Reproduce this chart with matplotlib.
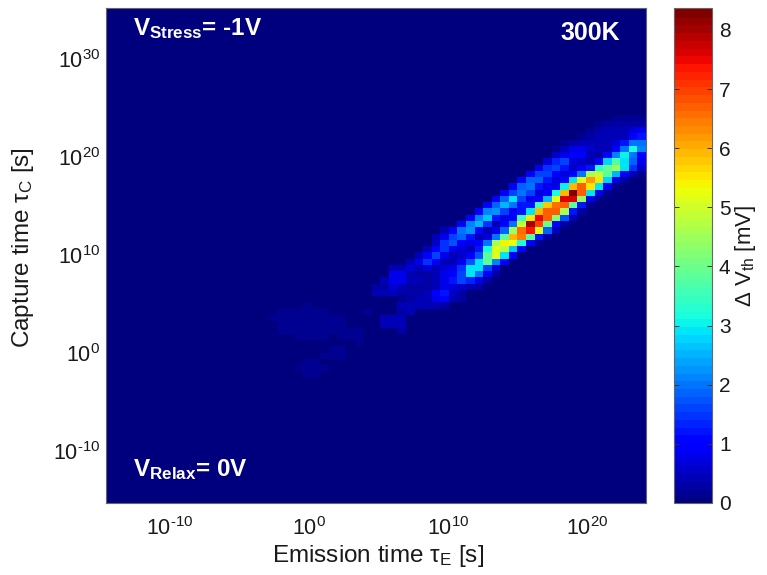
import numpy as np
import matplotlib

matplotlib.use("Agg")
import matplotlib.pyplot as plt

plt.rcParams["font.family"] = ["Liberation Sans", "DejaVu Sans"]
plt.rcParams["mathtext.fontset"] = "custom"
plt.rcParams["mathtext.rm"] = "Liberation Sans"
plt.rcParams["mathtext.bf"] = "Liberation Sans:bold"
plt.rcParams["mathtext.default"] = "regular"

N_COLS = 63
N_ROWS = 79

# decades covered by the axes
x_range = [-14.64, 24.21]
y_range = [-15.25, 35.25]
x_ticks = [-10, 0, 10, 20]
y_ticks = [-10, 0, 10, 20, 30]
cbar_ticks = [0, 1, 2, 3, 4, 5, 6, 7, 8]
vmax = 8.37

# rows counted from the top, columns counted from the right edge
band_rows = list(range(17, 49))
band_first_col = [
    3, 5, 6, 7, 9, 10, 10, 11, 12, 13, 14, 15, 16, 17, 18, 19,
    20, 21, 23, 24, 24, 25, 26, 27, 29, 29, 30, 31, 31, 28, 28, 28,
]
band_values = [
    [0.2, 0.2, 0.2, 0.2],
    [0.2, 0.3, 0.3, 0.3, 0.3, 0.3],
    [0.2, 0.3, 0.4, 0.4, 0.4, 0.7, 0.8],
    [0.2, 0.3, 0.4, 0.5, 0.5, 0.4, 1.0, 1.3],
    [0.2, 0.3, 0.4, 0.5, 0.5, 0.4, 0.7, 1.2, 2.0, 2.0],
    [0.2, 0.4, 0.8, 0.8, 0.6, 0.4, 0.5, 1.0, 2.0, 3.2, 2.2],
    [0.6, 0.9, 1.1, 1.0, 0.4, 0.3, 1.1, 2.2, 3.1, 2.0, 1.1],
    [0.7, 1.4, 1.6, 0.7, 0.6, 0.4, 1.0, 2.8, 3.7, 3.0, 1.9, 0.8],
    [0.8, 1.5, 1.6, 1.2, 0.6, 0.9, 1.3, 3.3, 4.0, 4.5, 2.9, 1.5, 0.6],
    [1.0, 1.6, 1.7, 1.1, 0.7, 1.0, 2.0, 4.6, 4.9, 3.9, 2.5, 1.0, 0.4, 0.2],
    [1.0, 1.9, 1.9, 1.2, 0.7, 1.0, 3.0, 5.2, 6.2, 5.5, 2.8, 0.9, 0.3],
    [1.0, 1.9, 2.0, 1.2, 0.9, 0.9, 3.1, 6.0, 6.8, 5.5, 3.0, 0.9, 0.2],
    [1.0, 1.7, 2.0, 1.6, 0.7, 1.0, 3.2, 5.9, 8.3, 6.7, 3.0, 0.8, 0.2],
    [1.0, 1.9, 3.0, 1.7, 0.8, 1.0, 2.6, 5.3, 7.6, 7.6, 4.4, 0.9, 0.2],
    [1.0, 1.9, 2.5, 2.0, 1.2, 1.2, 3.6, 5.8, 6.6, 6.7, 3.8, 1.2, 0.2],
    [1.0, 2.2, 2.3, 1.6, 1.0, 1.3, 3.0, 6.0, 6.7, 6.7, 4.6, 1.2, 0.3],
    [1.0, 2.2, 2.7, 1.3, 0.8, 1.0, 3.5, 5.6, 7.5, 6.8, 4.2, 1.8, 0.4],
    [1.1, 2.2, 2.6, 1.5, 0.5, 1.0, 2.0, 4.9, 8.0, 7.0, 4.0, 1.0, 0.3],
    [0.4, 1.0, 2.0, 2.3, 1.1, 0.5, 0.8, 1.9, 4.5, 6.6, 7.4, 5.2, 1.9, 0.4],
    [0.4, 0.8, 1.7, 1.9, 1.2, 0.5, 0.7, 2.0, 3.9, 6.0, 6.5, 3.8, 1.3, 0.3],
    [0.6, 1.5, 1.8, 1.0, 0.8, 1.0, 2.0, 4.6, 5.4, 5.3, 3.2, 1.0, 0.2],
    [0.5, 1.0, 1.5, 0.8, 0.7, 0.5, 1.3, 3.2, 5.2, 4.8, 2.7, 1.0],
    [0.4, 1.0, 1.6, 0.8, 0.5, 0.6, 1.0, 1.8, 3.9, 5.2, 2.9, 1.0],
    [0.4, 0.9, 1.5, 1.0, 0.5, 0.5, 0.9, 1.8, 2.9, 3.8, 2.1, 1.0],
    [0.4, 0.5, 0.7, 0.5, 0.7, 0.5, 0.7, 0.9, 1.5, 3.0, 3.0, 1.6, 0.7],
    [0.8, 0.8, 0.4, 0.3, 0.3, 0.4, 0.8, 1.0, 1.7, 3.0, 2.0, 1.0, 0.3],
    [0.4, 0.8, 0.8, 0.5, 0.4, 0.3, 0.4, 0.9, 1.3, 1.6, 1.4, 0.8, 0.3],
    [0.3, 0.3, 0.7, 0.5, 0.3, 0.3, 0.3, 0.4, 0.9, 0.7, 0.6, 0.4, 0.3],
    [0.4, 0.4, 0.5, 0.3, 0.3, 0.3, 0.4, 1.0, 1.2, 0.6, 0.3],
    [0.2, 0.3, 0.4, 0.5, 0.9, 1.0, 0.5, 0.3],
    [0.5, 0.5, 0.4, 0.4, 0.5, 0.3],
    [0.3, 0.4],
]

# faint cells further down the diagonal: row, first col, last col, value
faint_rows = [47, 48, 48, 49, 49, 50, 50, 51, 51, 52, 52, 53, 54, 55, 56, 57, 58]
faint_first = [39, 32, 42, 43, 30, 42, 30, 42, 28, 40, 35, 33, 36, 37, 39, 40, 39]
faint_last = [39, 32, 37, 35, 28, 35, 28, 33, 28, 37, 33, 33, 35, 35, 38, 37, 38]
faint_value = [0.2, 0.25, 0.2, 0.2, 0.45, 0.2, 0.45, 0.2, 0.3, 0.2, 0.2, 0.2, 0.2, 0.2, 0.2, 0.2, 0.15]

grid = np.zeros((N_ROWS, N_COLS))
for r, first, vals in zip(band_rows, band_first_col, band_values):
    for i, v in enumerate(vals):
        grid[r, N_COLS - 1 - (first - i)] = v
for r, first, last, v in zip(faint_rows, faint_first, faint_last, faint_value):
    for k in range(last, first + 1):
        grid[r, N_COLS - 1 - k] = v

W, H = 767, 575
fig = plt.figure(figsize=(W / 100, H / 100), dpi=100)


def px_axes(left, top, right, bottom):
    return fig.add_axes([left / W, 1 - bottom / H, (right - left) / W, (bottom - top) / H])


def decade_label(d):
    return "10$^{\\mathrm{%s}}$" % (r"\text{-}%d" % -d if d < 0 else "%d" % d)


ax = px_axes(105.5, 8, 645.5, 503)
cmap = plt.get_cmap("jet", 64)
im = ax.imshow(grid, cmap=cmap, vmin=0, vmax=vmax, aspect="auto", interpolation="nearest",
               extent=[x_range[0], x_range[1], y_range[0], y_range[1]], origin="upper")
ax.set_xticks(x_ticks)
ax.set_xticklabels([decade_label(d) for d in x_ticks])
ax.set_yticks(y_ticks)
ax.set_yticklabels([decade_label(d) for d in y_ticks])
ax.tick_params(length=0, labelsize=15.5, colors="#1a1a1a")
ax.tick_params(axis="x", pad=10)
ax.tick_params(axis="y", pad=4)
ax.set_xlabel("Emission time τ$_{\\mathrm{E}}$ [s]", fontsize=17.5, color="#1a1a1a", labelpad=2, x=0.504)
ax.set_ylabel("Capture time τ$_{\\mathrm{C}}$ [s]", fontsize=17.5, color="#1a1a1a")
ax.yaxis.set_label_coords(-0.129, 0.517)
for s in ax.spines.values():
    s.set_color("#666666")
    s.set_linewidth(0.8)

ax.text(0.051, 0.945, "V$_{\\mathbf{Stress}}$= -1V", transform=ax.transAxes, color="white",
        fontsize=17.5, fontweight="bold", va="baseline", ha="left")
ax.text(0.953, 0.935, "300K", transform=ax.transAxes, color="white",
        fontsize=18, fontweight="bold", va="baseline", ha="right")
ax.text(0.051, 0.0545, "V$_{\\mathbf{Relax}}$= 0V", transform=ax.transAxes, color="white",
        fontsize=17.5, fontweight="bold", va="baseline", ha="left")

cax = px_axes(674, 8, 712, 503)
cbar = fig.colorbar(im, cax=cax, ticks=cbar_ticks)
cbar.solids.set_edgecolor("face")
cbar.ax.tick_params(direction="in", left=True, right=True, length=3.5, width=0.7,
                    labelsize=15, labelcolor="#1a1a1a", color="#333333", pad=5)
cbar.set_label("Δ V$_{\\mathrm{th}}$ [mV]", fontsize=16, color="#1a1a1a", rotation=90, labelpad=2)
cbar.outline.set_edgecolor("#666666")
cbar.outline.set_linewidth(0.8)

fig.savefig("out.png", dpi=100)
